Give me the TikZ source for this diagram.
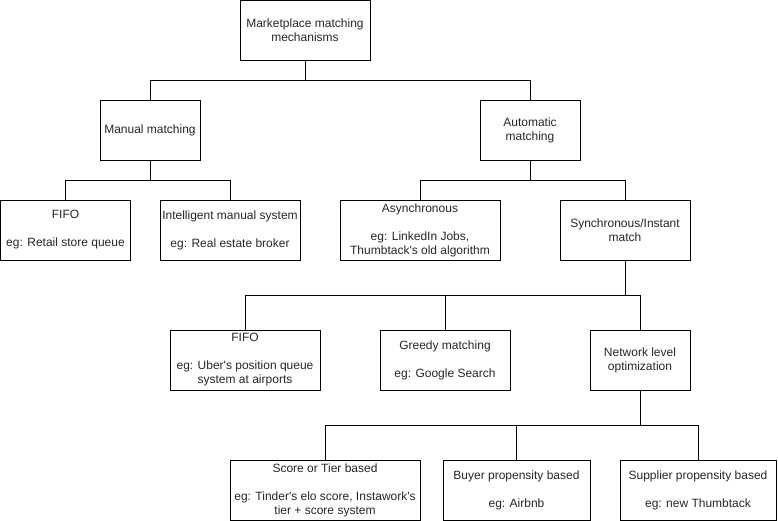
\documentclass[tikz,border=0pt]{standalone}
\usepackage{fontspec}
\setmainfont{Liberation Sans}[Ligatures=TeXOff]
\begin{document}
\begin{tikzpicture}[x=0.75pt,y=-0.75pt,
  box/.style={draw=black,line width=0.75pt,minimum height=45pt,inner sep=0pt,
    align=center,text=black!85,font=\fontsize{9}{10.5}\selectfont},
  link/.style={draw=black,line width=0.75pt}]
\useasboundingbox (0,0) rectangle (778,521);
\node[box,minimum width=97.5pt] (root) at (305,30.5) {Marketplace matching\\mechanisms};
\node[box,minimum width=75pt] (manual) at (150,130) {Manual matching};
\node[box,minimum width=75pt] (auto) at (530,130) {Automatic\\matching};
\node[box,minimum width=97.5pt] (fifoa) at (65.5,230) {FIFO\\[10.5pt]eg: Retail store queue};
\node[box,minimum width=105pt] (intel) at (230,230) {Intelligent manual system\\[10.5pt]eg: Real estate broker};
\node[box,minimum width=120pt] (async) at (420,230) {Asynchronous\\[10.5pt]eg: LinkedIn Jobs,\\Thumbtack's old algorithm};
\node[box,minimum width=97.5pt] (sync) at (625,230) {Synchronous/Instant\\match};
\node[box,minimum width=112.5pt] (fifob) at (245,360) {FIFO\\[10.5pt]eg: Uber's position queue\\system at airports};
\node[box,minimum width=97.5pt] (greedy) at (445,360) {Greedy matching\\[10.5pt]eg: Google Search};
\node[box,minimum width=75pt] (network) at (640,360) {Network level\\optimization};
\node[box,minimum width=142.5pt] (score) at (325,490) {Score or Tier based\\[10.5pt]eg: Tinder's elo score, Instawork's\\tier + score system};
\node[box,minimum width=110.25pt] (buyer) at (516.5,490) {Buyer propensity based\\[10.5pt]eg: Airbnb};
\node[box,minimum width=117pt] (supplier) at (698,490) {Supplier propensity based\\[10.5pt]eg: new Thumbtack};
\draw[link] (root.south) -- ++(0,19.5) -| (manual.north);
\draw[link] (root.south) -- ++(0,19.5) -| (auto.north);
\draw[link] (manual.south) -- ++(0,20) -| (fifoa.north);
\draw[link] (manual.south) -- ++(0,20) -| (intel.north);
\draw[link] (auto.south) -- ++(0,20) -| (async.north);
\draw[link] (auto.south) -- ++(0,20) -| (sync.north);
\draw[link] (sync.south) -- ++(0,35) -| (fifob.north);
\draw[link] (sync.south) -- ++(0,35) -| (greedy.north);
\draw[link] (sync.south) -- ++(0,35) -| (network.north);
\draw[link] (network.south) -- ++(0,35) -| (score.north);
\draw[link] (network.south) -- ++(0,35) -| (buyer.north);
\draw[link] (network.south) -- ++(0,35) -| (supplier.north);
\end{tikzpicture}
\end{document}
